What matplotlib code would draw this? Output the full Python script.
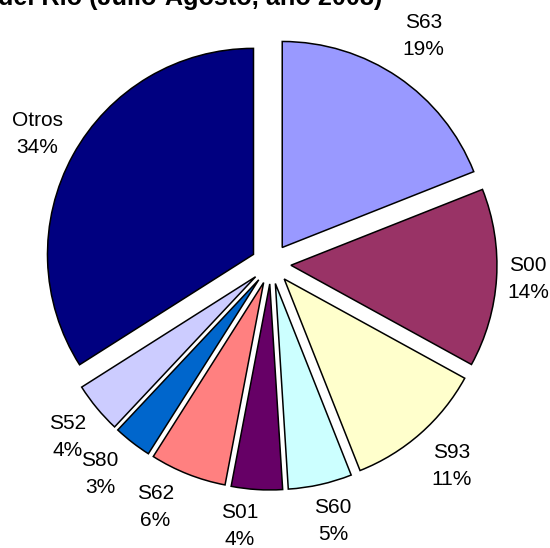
import matplotlib
matplotlib.use("Agg")
import matplotlib.pyplot as plt
import numpy as np

categories = ["S63", "S00", "S93", "S60", "S01", "S62", "S80", "S52", "Otros"]
values = [19, 14, 11, 5, 4, 6, 3, 4, 34]
colors = ["#9999FF", "#993366", "#FFFFCC", "#CCFFFF", "#660066",
          "#FF8080", "#0066CC", "#CCCCFF", "#000080"]
title = "del Río (Julio-Agosto, año 2008)"

plt.rcParams['font.family'] = ['Liberation Sans', 'DejaVu Sans']

W, H = 550, 548
fig = plt.figure(figsize=(W / 100, H / 100), dpi=100)
ax = fig.add_axes([0, 0, 1, 1])
R = 206.0
cx, cy = 271.0, 264.0

wedges, _ = ax.pie(values, colors=colors, startangle=90, counterclock=False,
                   explode=[0.097] * len(values), radius=1.0,
                   wedgeprops=dict(edgecolor='black', linewidth=1.1))
ax.set_xlim(-cx / R, (W - cx) / R)
ax.set_ylim(-(H - cy) / R, cy / R)
ax.set_aspect('auto')
ax.axis('off')

# label placement: (distance in radii from wedge centre, angular offset in degrees)
label_pos = {"S63": (1.234, 0.5), "S00": (1.152, 0.3), "S93": (1.22, 0.5),
             "S60": (1.186, 1.0), "S01": (1.184, -3.4), "S62": (1.21, -4.2),
             "S80": (1.217, -1.5), "S52": (1.198, 0.9), "Otros": (1.202, -0.3)}
for w, cat, v in zip(wedges, categories, values):
    d, off = label_pos[cat]
    tm = np.deg2rad((w.theta1 + w.theta2) / 2 + off)
    x0, y0 = w.center
    ax.text(x0 + d * np.cos(tm), y0 + d * np.sin(tm), f"{cat}\n{v}%",
            ha='center', va='center', fontsize=15, linespacing=1.55)

fig.text(-2 / W, 1 - 5 / H, title, ha='left', va='baseline',
         fontsize=18.2, fontweight='bold')

fig.savefig("out.png", dpi=100)
